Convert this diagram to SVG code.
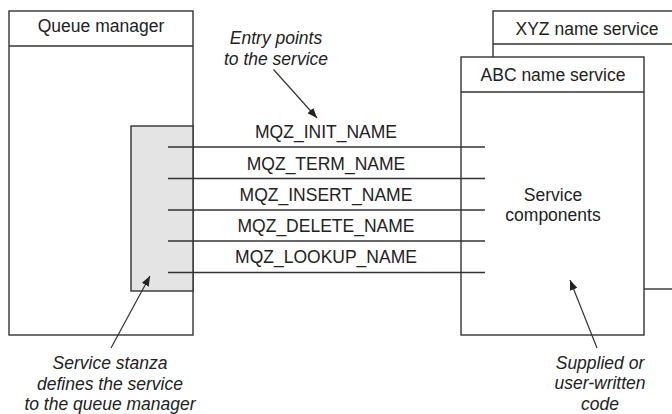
<svg xmlns="http://www.w3.org/2000/svg" width="672" height="414" viewBox="0 0 672 414">
  <style>
    .box { fill: #ffffff; stroke: #333333; stroke-width: 1.4; }
    .stanza { fill: #e4e4e4; stroke: #333333; stroke-width: 1.4; }
    .hdr { stroke: #333333; stroke-width: 1.4; fill: none; }
    .t { font-family: "Liberation Sans", Arial, sans-serif; font-size: 17.5px; fill: #222222; text-anchor: middle; }
    .ti { font-family: "Liberation Sans", Arial, sans-serif; font-size: 17.5px; font-style: italic; fill: #222222; text-anchor: middle; }
    .conn { stroke: #333333; stroke-width: 1.4; fill: none; }
    .arr { stroke: #333333; stroke-width: 1.2; fill: none; marker-end: url(#ah); }
  </style>
  <defs>
    <marker id="ah" viewBox="0 0 10 8" refX="10" refY="4" markerWidth="10" markerHeight="8" markerUnits="userSpaceOnUse" orient="auto">
      <path d="M0,0 L10,4 L0,8 z" fill="#222222"/>
    </marker>
  </defs>

  <g id="xyz-name-service">
    <rect class="box" x="493" y="11" width="190" height="278"/>
    <line class="hdr" x1="493" y1="44" x2="683" y2="44"/>
    <text class="t" x="587" y="35">XYZ name service</text>
  </g>

  <g id="abc-name-service">
    <rect class="box" x="461" y="57" width="183" height="278"/>
    <line class="hdr" x1="461" y1="92" x2="644" y2="92"/>
    <text class="t" x="553" y="81">ABC name service</text>
    <text class="t" x="553" y="201">Service</text>
    <text class="t" x="553" y="221">components</text>
  </g>

  <g id="queue-manager">
    <rect class="box" x="9" y="11" width="184" height="324"/>
    <line class="hdr" x1="9" y1="46" x2="193" y2="46"/>
    <text class="t" x="101" y="32">Queue manager</text>
  </g>

  <g id="service-stanza">
    <rect class="stanza" x="131" y="126" width="62" height="165"/>
  </g>

  <g id="connectors">
    <line class="conn" x1="168" y1="147" x2="485" y2="147"/>
    <line class="conn" x1="168" y1="178.5" x2="485" y2="178.5"/>
    <line class="conn" x1="168" y1="210" x2="485" y2="210"/>
    <line class="conn" x1="168" y1="241" x2="485" y2="241"/>
    <line class="conn" x1="168" y1="272.5" x2="485" y2="272.5"/>
    <line class="arr" x1="273.5" y1="69.5" x2="317" y2="118"/>
    <line class="arr" x1="111" y1="348" x2="150" y2="276"/>
    <line class="arr" x1="597" y1="348" x2="570" y2="280"/>
  </g>

  <g id="entry-labels">
    <text class="t" x="326" y="138">MQZ_INIT_NAME</text>
    <text class="t" x="326" y="169.5">MQZ_TERM_NAME</text>
    <text class="t" x="326" y="200.5">MQZ_INSERT_NAME</text>
    <text class="t" x="326" y="231.5">MQZ_DELETE_NAME</text>
    <text class="t" x="326" y="263">MQZ_LOOKUP_NAME</text>
  </g>

  <g id="annotations">
    <text class="ti" x="276" y="44">Entry points</text>
    <text class="ti" x="276" y="65">to the service</text>
    <text class="ti" x="110" y="369">Service stanza</text>
    <text class="ti" x="110" y="389.5">defines the service</text>
    <text class="ti" x="110" y="409.5">to the queue manager</text>
    <text class="ti" x="600" y="368.5">Supplied or</text>
    <text class="ti" x="600" y="389">user-written</text>
    <text class="ti" x="600" y="409.5">code</text>
  </g>
</svg>
